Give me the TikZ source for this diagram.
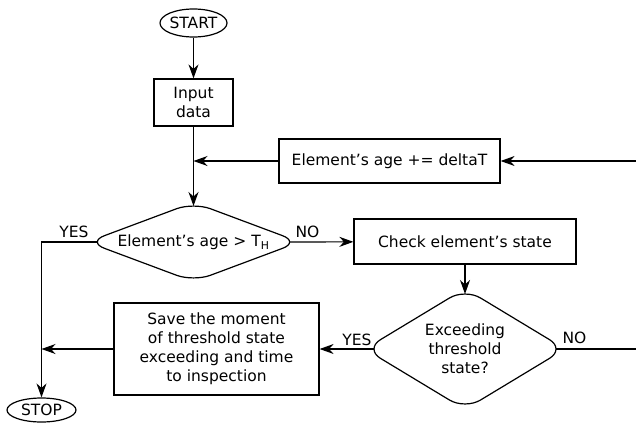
\documentclass[tikz,border=0pt]{standalone}
\usepackage{fontspec}
\setmainfont{DejaVu Sans}
\usetikzlibrary{arrows.meta,shapes.geometric}
\begin{document}
\begin{tikzpicture}[x=1pt,y=-1pt,line width=1.2pt,
  >={Stealth[length=14pt,width=10pt,inset=4.5pt]},
  every node/.style={font=\fontsize{15.5}{19}\selectfont},
  box/.style={draw,align=center,inner sep=0pt},
  term/.style={draw,ellipse,inner sep=0pt},
  lbl/.style={inner sep=0pt},
  dec/.style={align=center,inner sep=0pt},
  outline/.style={rounded corners=18pt}]
\useasboundingbox (0,0) rectangle (636,423);

\node[term,minimum width=67pt,minimum height=28pt] (start) at (193.5,23) {\makebox[44pt]{START}};
\node[box,minimum width=79pt,minimum height=47pt] (input) at (193.5,102.5) {Input\\data};
\node[box,minimum width=221pt,minimum height=44pt] (age) at (389.5,161) {Element’s age += deltaT};
\node[dec] (d1) at (193.5,242) {Element’s age > T\textsubscript{H}};
\node[box,minimum width=222pt,minimum height=45pt] (check) at (465,241.5) {Check element’s state};
\node[dec] (d2) at (465,349) {Exceeding\\threshold\\state?};
\node[box,minimum width=205pt,minimum height=92pt] (save) at (216.5,349) {Save the moment\\of threshold state\\exceeding and time\\to inspection};
\node[term,minimum width=69pt,minimum height=24pt] (stop) at (41.5,410) {\makebox[40pt]{STOP}};

\draw[outline] ([shift={(-53pt,19.8pt)}]d1.center) -- ([yshift=39.6pt]d1.center) -- ([xshift=106pt]d1.center) -- ([yshift=-39.6pt]d1.center) -- ([xshift=-106pt]d1.center) -- cycle;
\draw[outline] ([shift={(-50pt,30.2pt)}]d2.center) -- ([yshift=60.4pt]d2.center) -- ([xshift=100pt]d2.center) -- ([yshift=-60.4pt]d2.center) -- ([xshift=-100pt]d2.center) -- cycle;

\coordinate (d1L) at ([xshift=-96pt]d1.center);
\coordinate (d1R) at ([xshift=96pt]d1.center);
\coordinate (d1T) at ([yshift=36pt]d1.center);
\coordinate (d2L) at ([xshift=-91pt]d2.center);
\coordinate (d2R) at ([xshift=91pt]d2.center);
\coordinate (d2T) at ([yshift=55pt]d2.center);
\coordinate (rin) at (636,161);
\coordinate (rout) at (636,349);

\node[lbl] (yes1) at (74,231.5) {YES};
\node[lbl] (no1) at (307.5,231.5) {NO};
\node[lbl] (yes2) at (357,339.5) {YES};
\node[lbl] (no2) at (574.5,338) {NO};

\draw[->] (start) -- (input);
\draw[->] (input) -- (d1T);
\draw[->] (age) -- (input.south |- age.west);
\draw[->] (rin) -- (age);
\draw[->] (d1L) -- (stop.north |- d1L) -- (stop);
\draw[->] (d1R) -- (check);
\draw[->] (check) -- (d2T);
\draw[->] (d2L) -- (save);
\draw (d2R) -- (rout);
\draw[->] (save) -- (stop.north |- save.west);
\end{tikzpicture}
\end{document}
